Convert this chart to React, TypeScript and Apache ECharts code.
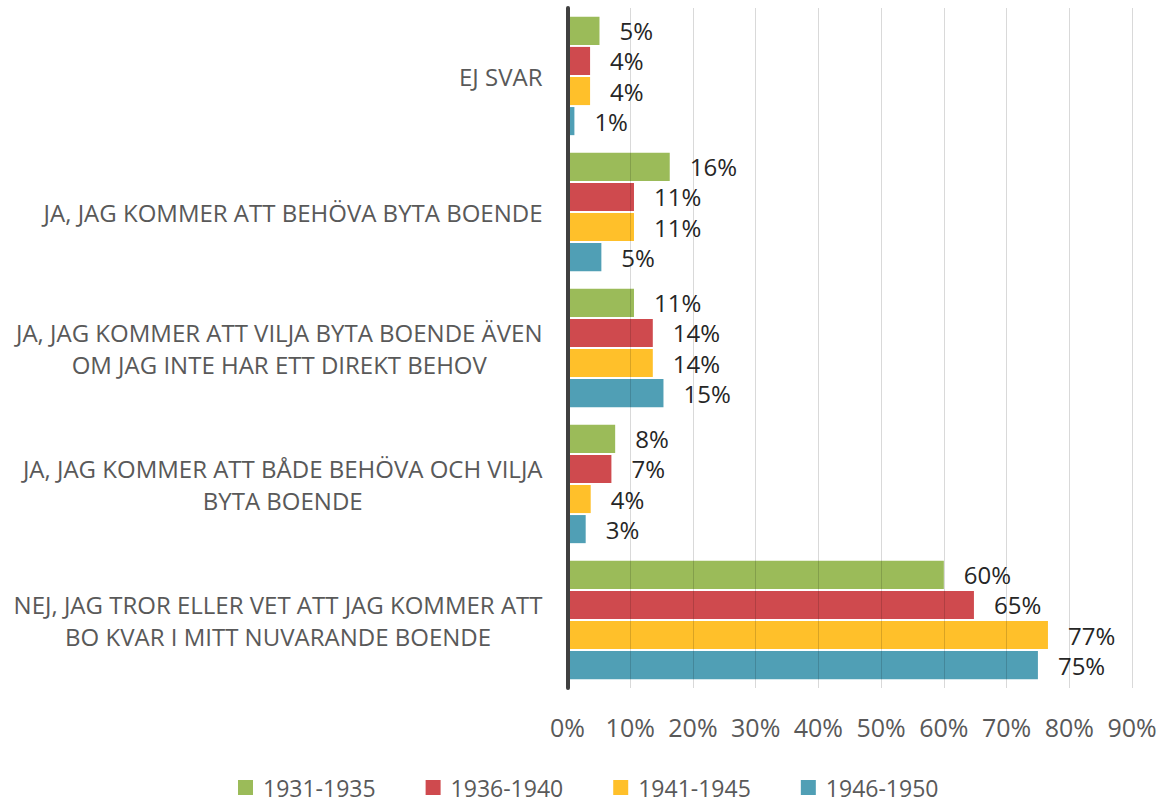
import React, { useEffect, useRef } from "react";
import * as echarts from "echarts";

const categories = [
  "EJ SVAR",
  "JA, JAG KOMMER ATT BEHÖVA BYTA BOENDE",
  "JA, JAG KOMMER ATT VILJA BYTA BOENDE ÄVEN\nOM JAG INTE HAR ETT DIREKT BEHOV",
  "JA, JAG KOMMER ATT BÅDE BEHÖVA OCH VILJA\nBYTA BOENDE",
  "NEJ, JAG TROR ELLER VET ATT JAG KOMMER ATT\nBO KVAR I MITT NUVARANDE BOENDE",
];
const seriesNames = ["1931-1935", "1936-1940", "1941-1945", "1946-1950"];
const values1931 = [5.1, 16.3, 10.6, 7.6, 60.0];
const values1936 = [3.6, 10.6, 13.6, 7.0, 64.8];
const values1941 = [3.6, 10.6, 13.6, 3.7, 76.6];
const values1946 = [1.1, 5.4, 15.3, 2.9, 75.0];
const colors = ["#9BBB59", "#CF4A4E", "#FFC02A", "#509FB5"];
const xTicks = { min: 0, max: 90, interval: 10 };

const FONT = "'Open Sans', sans-serif";

export default function App() {
  const ref = useRef<HTMLDivElement>(null);
  useEffect(() => {
    document.body.style.margin = "0";
    const chart = echarts.init(ref.current!, null, { renderer: "svg" });
    const allValues = [values1931, values1936, values1941, values1946];
    chart.setOption({
      animation: false,
      textStyle: { fontFamily: FONT },
      grid: { left: 567.5, right: 31, top: 8, bottom: 114, containLabel: false },
      legend: {
        left: 238,
        top: 776,
        padding: 0,
        itemWidth: 15,
        itemHeight: 15,
        itemGap: 50,
        icon: "rect",
        textStyle: {
          fontSize: 23,
          lineHeight: 22,
          color: "#595959",
          fontFamily: FONT,
          padding: [0, 0, 0, 5],
        },
        data: seriesNames,
      },
      xAxis: {
        type: "value",
        min: xTicks.min,
        max: xTicks.max,
        interval: xTicks.interval,
        z: 3,
        axisLine: { show: false },
        axisTick: { show: false },
        axisLabel: {
          formatter: "{value}%",
          fontSize: 25,
          color: "#595959",
          margin: 26,
          fontFamily: FONT,
        },
        splitLine: { show: true, lineStyle: { color: "rgba(0,0,0,0.15)", width: 1 } },
      },
      yAxis: {
        type: "category",
        inverse: true,
        data: categories,
        z: 4,
        axisLine: { show: true, lineStyle: { color: "#404040", width: 4 } },
        axisTick: { show: false },
        axisLabel: {
          margin: 25,
          align: "right",
          fontSize: 24,
          lineHeight: 32,
          color: "#595959",
          fontFamily: FONT,
          formatter: (v: string) =>
            v
              .split("\n")
              .map((l) => `{c|${l}}`)
              .join("\n"),
          rich: {
            c: {
              align: "center",
              fontSize: 24,
              lineHeight: 32,
              color: "#595959",
              fontFamily: FONT,
            },
          },
        },
      },
      series: seriesNames.map((name, i) => ({
        name,
        type: "bar",
        data: allValues[i],
        barCategoryGap: "13%",
        barGap: "7%",
        itemStyle: { color: colors[i] },
        label: {
          show: true,
          position: "right",
          distance: 20,
          fontSize: 24,
          lineHeight: 28,
          color: "#262626",
          fontFamily: FONT,
          formatter: (p: any) => `${Math.round(p.value)}%`,
        },
      })),
    });
    return () => chart.dispose();
  }, []);
  return <div ref={ref} style={{ width: 1163, height: 802 }} />;
}
